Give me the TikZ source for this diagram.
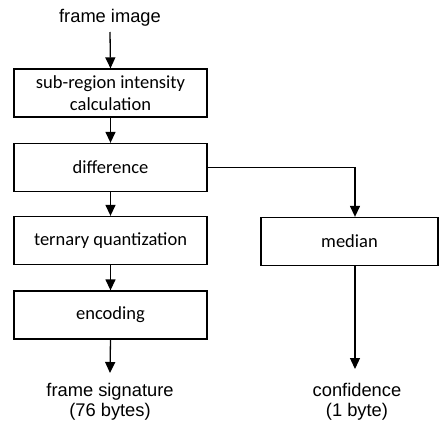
\documentclass[tikz,border=0pt]{standalone}
\usepackage{fontspec}
\setmainfont{Liberation Sans}
\newfontfamily\boxfont{Carlito}
\usetikzlibrary{arrows.meta}
\begin{document}
\begin{tikzpicture}[x=1pt,y=-1pt,
  stepbox/.style={draw,line width=1.3pt,minimum width=193pt,minimum height=48pt,inner sep=0pt,align=center,font=\boxfont\fontsize{18.5}{22.5}\selectfont},
  lbl/.style={align=center,inner sep=0pt,font=\fontsize{18.3}{20}\selectfont},
  arr/.style={line width=1.3pt,-{Triangle[width=10pt,length=11pt]}},
  every path/.style={line width=1.3pt}]
\useasboundingbox (0,0) rectangle (440,421);
\node[lbl] (in) at (110,18) {frame image};
\node[stepbox] (sub) at (110.5,93) {sub-region intensity\\calculation};
\node[stepbox] (diff) at (110.5,167.5) {difference};
\node[stepbox] (tern) at (110.5,240.5) {ternary quantization};
\node[stepbox] (enc) at (110.5,315) {encoding};
\node[stepbox,minimum width=177pt] (med) at (349.5,241.5) {median};
\node[lbl] (sig) at (110,401.5) {frame signature\\(76 bytes)};
\node[lbl] (conf) at (357,401.5) {confidence\\(1 byte)};
\coordinate (corner) at (355,167.5);
\draw[arr] (110,32) -- (sub.north);
\draw[arr] (sub.south) -- (diff.north);
\draw[arr] (diff.south) -- (tern.north);
\draw[arr] (tern.south) -- (enc.north);
\draw[arr] (enc.south) -- (110,373);
\draw[arr] (diff.east) -- (corner) -- (corner |- med.north);
\draw[arr] (med.south -| corner) -- (355,369);
\end{tikzpicture}
\end{document}
